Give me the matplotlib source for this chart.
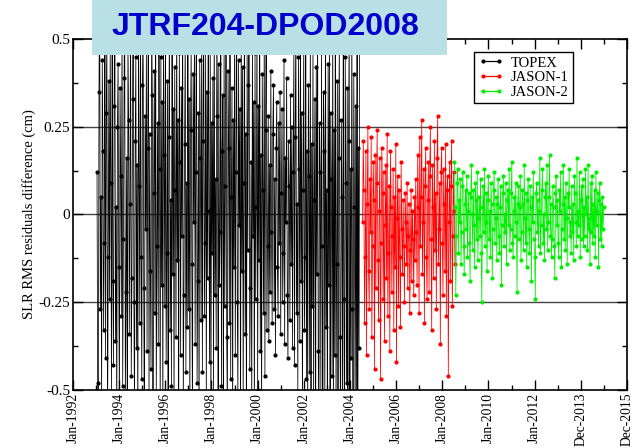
import datetime as dt
import numpy as np
import matplotlib
matplotlib.use('Agg')
import matplotlib.pyplot as plt
import matplotlib.dates as mdates
from matplotlib.patches import Rectangle
from matplotlib.ticker import FixedLocator, MultipleLocator

# SLR RMS residual difference (cm), one value per 10-day cycle
topex = [
    0.12, -0.48, -0.62, 0.35, 0.71, -0.27, 0.05, -0.55, 0.44, 0.18, -0.33, -0.08, 0.62, -0.41, 0.29, 0.53, -0.66, -0.12, 0.38, -0.24,
    0.47, 0.09, -0.52, 0.66, -0.19, -0.43, 0.31, 0.74, -0.36, 0.02, -0.61, 0.25, 0.43, -0.15, -0.57, 0.36, 0.11, -0.29, 0.58, -0.49,
    -0.07, 0.39, 0.68, -0.53, -0.22, 0.16, -0.71, 0.49, 0.27, -0.34, 0.03, 0.61, -0.46, -0.18, 0.33, 0.79, -0.25, -0.58, 0.21, 0.45,
    -0.38, 0.14, -0.65, 0.52, 0.08, -0.31, 0.69, -0.12, -0.47, 0.37, 0.56, -0.21, -0.74, 0.28, -0.04, 0.48, -0.39, 0.19, 0.63, -0.55,
    0.23, -0.16, -0.44, 0.57, 0.34, -0.68, 0.06, 0.41, -0.28, 0.72, -0.51, -0.09, 0.26, -0.37, 0.64, 0.13, -0.58, 0.45, -0.20, 0.32,
    -0.63, 0.50, 0.17, -0.26, 0.66, -0.42, -0.11, 0.38, -0.77, 0.22, 0.54, -0.33, 0.04, -0.49, 0.71, -0.17, 0.30, -0.60, 0.42, 0.07,
    -0.35, 0.59, -0.13, 0.27, -0.70, 0.46, 0.15, -0.40, 0.36, -0.06, 0.67, -0.54, -0.23, 0.20, 0.51, -0.45, 0.09, -0.32, 0.76, -0.27,
    0.33, -0.59, 0.24, 0.48, -0.14, -0.62, 0.40, -0.02, 0.55, -0.37, 0.12, 0.70, -0.48, -0.19, 0.29, -0.66, 0.44, 0.16, -0.30, 0.58,
    -0.45, 0.21, 0.63, -0.29, -0.08, 0.47, -0.56, 0.35, -0.18, 0.73, 0.01, -0.42, 0.52, -0.64, 0.26, -0.11, 0.39, -0.52, 0.60, -0.23,
    0.10, -0.38, 0.57, 0.28, -0.67, 0.43, -0.20, -0.05, 0.65, -0.49, 0.18, 0.34, -0.73, 0.50, -0.26, 0.08, 0.62, -0.35, -0.57, 0.41,
    0.19, -0.31, 0.74, -0.47, 0.05, 0.36, -0.60, 0.27, -0.15, 0.53, -0.40, 0.12, 0.68, -0.25, -0.52, 0.44, -0.03, 0.30, -0.69, 0.56,
    -0.16, 0.42, -0.54, 0.09, 0.61, -0.34, 0.23, -0.72, 0.48, -0.10, 0.37, 0.66, -0.44, -0.21, 0.15, -0.58, 0.51, -0.06, 0.32, -0.63,
    0.46, -0.24, 0.02, 0.58, -0.50, 0.31, -0.13, 0.70, -0.39, 0.17, -0.61, 0.40, 0.07, -0.28, 0.55, -0.46, 0.24, 0.64, -0.33, -0.09,
    0.28, -0.36, 0.14, -0.22, 0.41, -0.05, -0.31, 0.23, 0.37, -0.27, 0.10, -0.40, 0.19, 0.32, -0.15, -0.29, 0.26, -0.08, 0.35, -0.34,
    0.06, 0.30, -0.25, -0.11, 0.44, -0.37, 0.16, -0.02, 0.39, -0.23, -0.41, 0.21, 0.08, -0.30, 0.34, -0.14, 0.25, -0.38, 0.12, 0.47,
    -0.43, 0.22, 0.56, -0.28, 0.03, -0.51, 0.45, 0.13, -0.36, 0.62, -0.19, 0.29, -0.58, 0.07, 0.48, -0.33, -0.12, 0.69, -0.47, 0.18,
    -0.61, 0.37, 0.11, -0.45, 0.57, -0.70, 0.20, -0.26, 0.49, -0.55, 0.04, 0.33, -0.78, 0.42, -0.17, 0.60, -0.39, -0.64, 0.26, 0.12,
    -0.52, 0.47, -0.09, -0.73, 0.35, 0.18, -0.57, 0.66, -0.32, 0.07, -0.68, 0.43, -0.20, 0.52, -0.81, 0.29, 0.10, -0.46, 0.58, -0.62,
    0.24, -0.40, 0.71, -0.55, -0.14, 0.38, -0.76, 0.16, 0.50, -0.35, -0.63, 0.27, 0.05, -0.59, 0.62, -0.24, -0.70, 0.45, 0.09, -0.48,
    0.36, -0.67, 0.21, 0.54, -0.83, 0.13, -0.41, 0.59, -0.27, -0.72, 0.40, 0.02, -0.60, 0.31, -0.52, 0.65, -0.79, 0.19, -0.38, 0.72,
]
jason1 = [
    -0.02, 0.21, 0.07, -0.31, -0.12, 0.18, -0.40, 0.03, 0.25, -0.16, -0.27, 0.10, -0.05, 0.22, -0.35, -0.09, 0.15, 0.04, -0.44, 0.17,
    -0.21, 0.09, 0.24, -0.13, -0.30, 0.01, 0.16, -0.47, -0.08, 0.19, 0.06, -0.24, 0.12, -0.36, -0.03, 0.14, -0.18, 0.23, -0.29, -0.11,
    0.08, -0.39, 0.18, 0.02, -0.22, -0.06, 0.13, -0.33, 0.05, -0.15, 0.20, -0.42, -0.01, 0.11, -0.26, 0.07, -0.12, -0.32, 0.15, -0.04,
    -0.17, 0.04, -0.09, -0.25, 0.06, -0.02, -0.14, 0.09, -0.21, -0.06, 0.03, -0.28, -0.10, 0.07, -0.19, 0.01, -0.07, -0.23, 0.05, -0.13,
    0.10, -0.05, -0.20, 0.17, 0.02, -0.28, 0.22, -0.09, 0.05, 0.27, -0.17, -0.02, 0.13, -0.31, 0.08, 0.19, -0.12, -0.24, 0.04, 0.15,
    -0.22, 0.11, 0.25, -0.07, -0.33, 0.14, 0.02, -0.18, 0.21, -0.10, 0.06, -0.27, 0.16, 0.28, -0.14, -0.04, 0.09, -0.37, 0.12, 0.19,
    -0.08, -0.23, 0.13, 0.03, -0.16, 0.20, -0.29, 0.07, 0.11, -0.46, -0.02, 0.15, -0.19, 0.08, 0.21, -0.26, -0.06, 0.12, 0.01, -0.14,
]
jason2 = [
    0.15, 0.02, -0.23, -0.06, 0.09, 0.13, -0.11, 0.04, -0.02, 0.10, -0.14, -0.05, 0.08, 0.12, -0.09, -0.17, 0.03, 0.07, -0.04, 0.11,
    -0.12, 0.01, 0.06, -0.08, -0.19, 0.05, 0.14, 0.00, -0.10, 0.07, -0.03, -0.15, 0.09, 0.04, -0.07, 0.12, -0.13, -0.01, 0.05, -0.06,
    0.10, -0.11, -0.25, 0.02, 0.08, -0.05, 0.13, -0.09, -0.02, 0.06, -0.16, 0.04, 0.11, -0.07, 0.01, -0.12, 0.09, 0.03, -0.18, -0.04,
    0.07, 0.12, -0.08, -0.01, 0.05, -0.13, 0.03, 0.10, -0.06, -0.11, 0.02, 0.08, -0.20, -0.03, 0.06, 0.11, -0.09, 0.00, -0.05, 0.09,
    -0.14, 0.04, 0.07, -0.03, 0.13, -0.10, -0.04, 0.06, 0.15, -0.08, -0.12, 0.01, 0.05, -0.06, 0.09, -0.02, -0.22, 0.03, 0.08, -0.07,
    0.02, 0.11, -0.13, -0.05, 0.07, 0.03, -0.10, 0.14, -0.01, -0.08, 0.06, -0.15, 0.04, 0.10, -0.04, -0.11, 0.08, 0.02, -0.19, 0.05,
    -0.02, 0.12, -0.07, -0.12, -0.24, 0.06, 0.09, -0.05, 0.04, -0.09, 0.01, 0.16, -0.11, -0.03, 0.07, 0.13, -0.08, 0.00, -0.13, 0.05,
    0.09, -0.04, 0.14, -0.10, -0.02, 0.05, 0.17, -0.06, 0.03, -0.12, -0.07, 0.08, 0.02, -0.09, -0.18, 0.06, 0.11, -0.03, 0.04, -0.08,
    -0.12, 0.07, 0.01, 0.12, -0.15, -0.04, 0.03, 0.14, -0.07, 0.05, -0.10, 0.09, -0.01, -0.14, 0.06, 0.02, 0.13, -0.06, -0.02, -0.11,
    0.08, -0.05, 0.03, -0.13, 0.11, 0.06, -0.02, -0.09, 0.16, -0.06, 0.01, -0.03, 0.12, -0.12, 0.04, 0.08, -0.07, 0.10, -0.09, 0.02,
    -0.06, 0.13, 0.00, 0.05, -0.10, 0.14, -0.04, -0.01, -0.14, 0.09, -0.05, 0.11, -0.08, 0.03, -0.06, 0.07, -0.12, 0.12, -0.03, 0.01,
    0.06, -0.15, 0.04, 0.09, -0.07, 0.03, -0.09, 0.05, -0.04, 0.02,
]

# first / last cycle date of each mission
spans = {
    'TOPEX': (dt.date(1993, 1, 20), dt.date(2004, 6, 5)),
    'JASON-1': (dt.date(2004, 7, 20), dt.date(2008, 7, 20)),
    'JASON-2': (dt.date(2008, 7, 12), dt.date(2014, 12, 28)),
}
series = [('TOPEX', topex, 'black'), ('JASON-1', jason1, 'red'), ('JASON-2', jason2, '#00ee00')]

x_start = dt.date(1992, 1, 6)
x_end = dt.date(2015, 12, 31)

plt.rcParams['font.family'] = ['Liberation Serif', 'DejaVu Serif']

fig = plt.figure(figsize=(6.39, 4.48), dpi=100)
ax = fig.add_axes([0.1142, 0.1295, 0.8670, 0.7835])

for name, vals, col in series:
    d0, d1 = spans[name]
    t = np.linspace(mdates.date2num(d0), mdates.date2num(d1), len(vals))
    ax.plot(t, vals, color=col, lw=0.55, marker='o', ms=2.0, mec=col, mfc=col, label=name, zorder=3)

for yv in (-0.25, 0, 0.25):
    ax.axhline(yv, color='#444444', lw=1.0, zorder=1)

x0 = mdates.date2num(x_start)
ax.set_xlim(x0, mdates.date2num(x_end))
ax.set_ylim(-0.5, 0.5)
ax.xaxis.set_major_locator(FixedLocator(x0 + 730 * np.arange(13)))
ax.xaxis.set_minor_locator(FixedLocator(x0 + 365 + 730 * np.arange(12)))
ax.xaxis.set_major_formatter(mdates.DateFormatter('%b-%Y'))
ax.yaxis.set_major_locator(MultipleLocator(0.25))
ax.yaxis.set_minor_locator(MultipleLocator(0.125))
ax.yaxis.set_major_formatter(plt.FuncFormatter(lambda v, p: '0' if abs(v) < 1e-9 else ('%g' % v)))

ax.tick_params(which='both', direction='in', top=True, right=True, width=1.0)
ax.tick_params(which='major', length=7)
ax.tick_params(which='minor', length=3.5)
ax.tick_params(axis='x', labelrotation=90, labelsize=9.8, pad=2)
ax.tick_params(axis='y', labelsize=11, pad=2)
for s in ax.spines.values():
    s.set_linewidth(1.2)

ax.set_ylabel('SLR RMS residuals difference (cm)', fontsize=10.5, labelpad=2)

leg = ax.legend(loc='upper right', bbox_to_anchor=(0.9025, 0.963), borderaxespad=0, numpoints=2,
                fancybox=False, framealpha=1, edgecolor='black', fontsize=10.5,
                handlelength=1.7, handletextpad=0.5, borderpad=0.3, labelspacing=0.1)
leg.get_frame().set_linewidth(1.0)
for h in leg.get_lines():
    h.set_linewidth(0.9)

# title banner
fig.patches.append(Rectangle((0.144, 0.877), 0.556, 0.13, transform=fig.transFigure,
                             facecolor='#b9e0e4', edgecolor='none', zorder=5))
fig.text(0.415, 0.94, 'JTRF204-DPOD2008', ha='center', va='center', color='#0000cc',
         fontsize=23, fontweight='bold', family='Liberation Sans', zorder=6)

fig.savefig('out.png', dpi=100)
